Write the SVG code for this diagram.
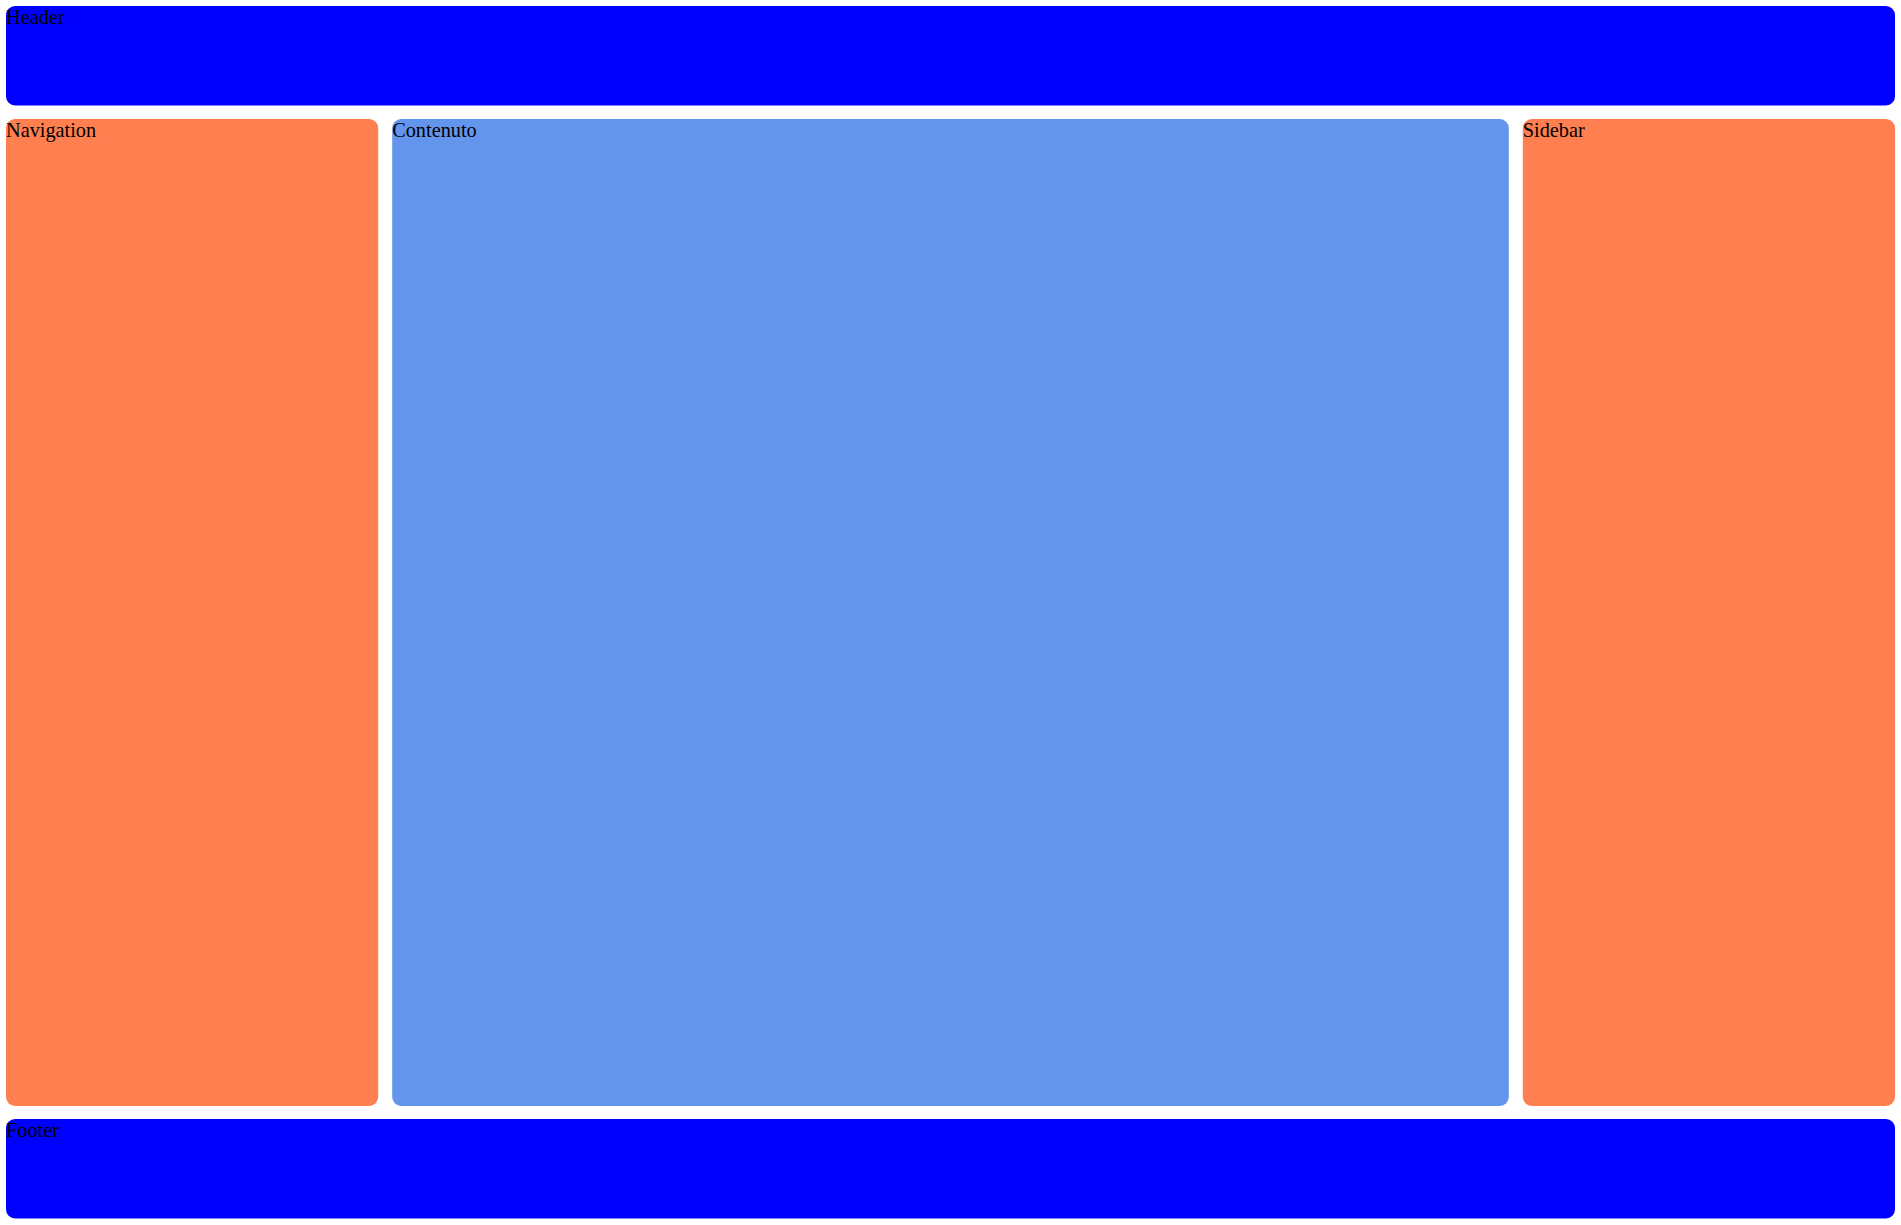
<svg xmlns="http://www.w3.org/2000/svg" width="1901" height="1225" viewBox="0 0 1901 1225">
<style>
.box{stroke:none}
.blue{fill:#0000ff}
.coral{fill:#ff7f50}
.corn{fill:#6495ed}
text{font-family:"Liberation Serif","Times New Roman",serif;font-size:20.3px;fill:#000}
</style>
<rect width="1901" height="1225" fill="#ffffff"/>
<g id="header"><rect class="box blue" x="6" y="6" width="1889" height="99.5" rx="9"/><text x="6" y="24">Header</text></g>
<g id="navigation"><rect class="box coral" x="6" y="119" width="372.2" height="987" rx="9"/><text x="6" y="137">Navigation</text></g>
<g id="contenuto"><rect class="box corn" x="392.2" y="119" width="1116.6" height="987" rx="9"/><text x="392.2" y="137">Contenuto</text></g>
<g id="sidebar"><rect class="box coral" x="1522.8" y="119" width="372.2" height="987" rx="9"/><text x="1522.8" y="137">Sidebar</text></g>
<g id="footer"><rect class="box blue" x="6" y="1119" width="1889" height="99.5" rx="9"/><text x="6" y="1137">Footer</text></g>
<g id="connectors"></g>
</svg>
